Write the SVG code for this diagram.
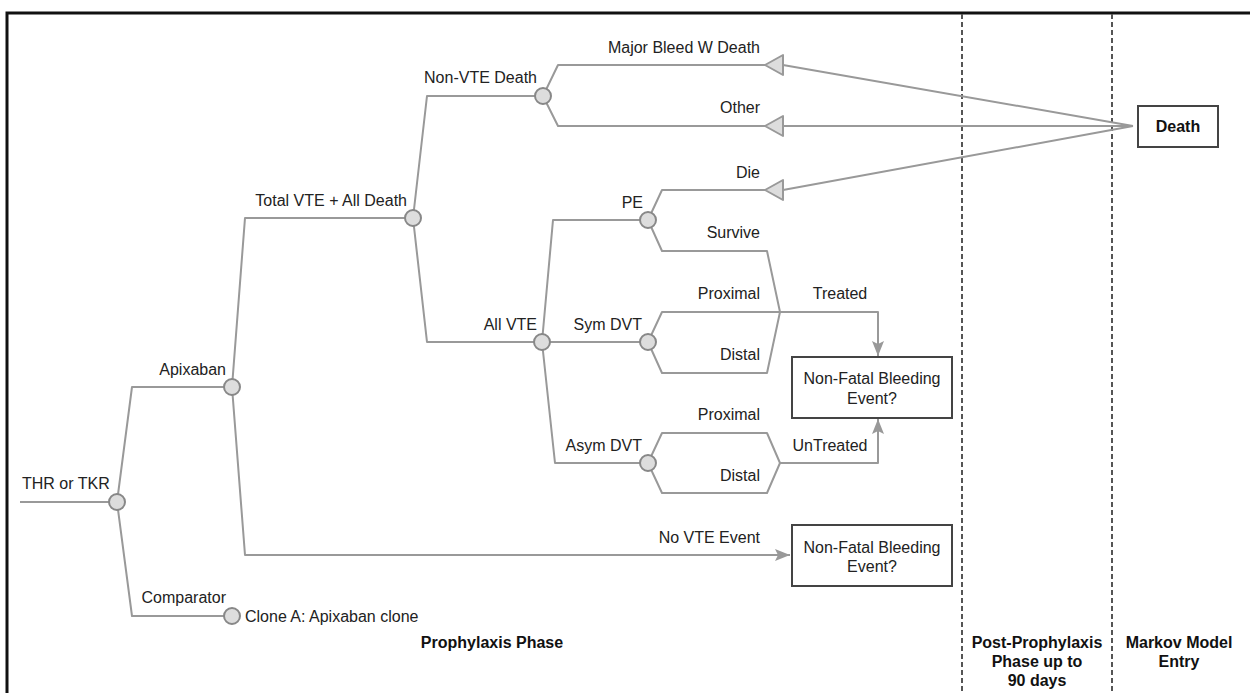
<svg xmlns="http://www.w3.org/2000/svg" width="1250" height="693" viewBox="0 0 1250 693">
<style>
.t{font-family:"Liberation Sans",Arial,sans-serif;font-size:16px;fill:#222}
.r{text-anchor:end}
.m{text-anchor:middle}
.b{font-weight:bold;font-size:16px;fill:#111}
.ln{fill:none;stroke:#999;stroke-width:2;stroke-linejoin:round}
.ch{fill:#ddd;stroke:#888;stroke-width:2}
.term{fill:#ddd;stroke:#999;stroke-width:2;stroke-linejoin:round}
.box{fill:#fff;stroke:#444;stroke-width:2}
.dash{stroke:#555;stroke-width:2;stroke-dasharray:5,3}
</style>
<defs>
<marker id="ah" markerWidth="16" markerHeight="12" refX="15" refY="6" orient="auto" markerUnits="userSpaceOnUse">
<path d="M0,0 L15,6 L0,12 L3,6 z" fill="#999"/>
</marker>
</defs>
<rect width="1250" height="693" fill="#fff"/>
<path d="M7,693 L7,13 L1250,13" fill="none" stroke="#111" stroke-width="3"/>
<line class="dash" x1="962" y1="14" x2="962" y2="693"/>
<line class="dash" x1="1112" y1="14" x2="1112" y2="693"/>

<g id="connectors">
<path class="ln" d="M20,502 L109,502"/>
<path class="ln" d="M117,502 L132,387 L224,387"/>
<path class="ln" d="M117,502 L132,616 L224,616"/>
<path class="ln" d="M232,387 L245,218 L405,218"/>
<path class="ln" d="M232,387 L245,555 L790,555" marker-end="url(#ah)"/>
<path class="ln" d="M413,218 L427,96 L535,96"/>
<path class="ln" d="M413,218 L427,342 L534,342"/>
<path class="ln" d="M543,96 L558,65 L765,65"/>
<path class="ln" d="M543,96 L558,126 L765,126"/>
<path class="ln" d="M542,342 L553,220 L640,220"/>
<path class="ln" d="M542,342 L555,463 L640,463"/>
<path class="ln" d="M550,342 L640,342"/>
<path class="ln" d="M648,220 L662,190 L765,190"/>
<path class="ln" d="M648,220 L662,251 L767,251 L780,312"/>
<path class="ln" d="M648,342 L662,312 L780,312"/>
<path class="ln" d="M648,342 L662,373 L767,373 L780,312"/>
<path class="ln" d="M780,312 L878,312 L878,356" marker-end="url(#ah)"/>
<path class="ln" d="M648,463 L662,433 L767,433 L780,463"/>
<path class="ln" d="M648,463 L662,493 L767,493 L780,463"/>
<path class="ln" d="M780,463 L878,463 L878,419" marker-end="url(#ah)"/>
<path class="ln" d="M783,65 L1133,126 M783,126 L1133,126 M783,190 L1133,126"/>
</g>

<g id="n-root"><circle class="ch" cx="117" cy="502" r="8"/><text class="t" x="22" y="489">THR or TKR</text></g>
<g id="n-apixaban"><circle class="ch" cx="232" cy="387" r="8"/><text class="t r" x="226" y="375">Apixaban</text></g>
<g id="n-comparator"><circle class="ch" cx="232" cy="616" r="8"/><text class="t r" x="226" y="603">Comparator</text><text class="t" x="245" y="622">Clone A: Apixaban clone</text></g>
<g id="n-total"><circle class="ch" cx="413" cy="218" r="8"/><text class="t r" x="407" y="206">Total VTE + All Death</text></g>
<g id="n-novte"><text class="t r" x="760" y="543">No VTE Event</text></g>
<g id="n-nonvte"><circle class="ch" cx="543" cy="96" r="8"/><text class="t r" x="537" y="83">Non-VTE Death</text></g>
<g id="n-allvte"><circle class="ch" cx="542" cy="342" r="8"/><text class="t r" x="537" y="330">All VTE</text></g>
<g id="n-pe"><circle class="ch" cx="648" cy="220" r="8"/><text class="t r" x="643" y="208">PE</text></g>
<g id="n-symdvt"><circle class="ch" cx="648" cy="342" r="8"/><text class="t r" x="642" y="330">Sym DVT</text></g>
<g id="n-asymdvt"><circle class="ch" cx="648" cy="463" r="8"/><text class="t r" x="642" y="451">Asym DVT</text></g>
<g id="n-majorbleed"><path class="term" d="M765,65 L783,55 L783,75 z"/><text class="t r" x="760" y="53">Major Bleed W Death</text></g>
<g id="n-other"><path class="term" d="M765,126 L783,116 L783,136 z"/><text class="t r" x="760" y="113">Other</text></g>
<g id="n-die"><path class="term" d="M765,190 L783,180 L783,200 z"/><text class="t r" x="760" y="178">Die</text></g>
<g id="n-survive"><text class="t r" x="760" y="238">Survive</text></g>
<g id="n-symprox"><text class="t r" x="760" y="299">Proximal</text></g>
<g id="n-symdist"><text class="t r" x="760" y="360">Distal</text></g>
<g id="n-asymprox"><text class="t r" x="760" y="420">Proximal</text></g>
<g id="n-asymdist"><text class="t r" x="760" y="481">Distal</text></g>
<g id="n-treated"><text class="t m" x="840" y="299">Treated</text></g>
<g id="n-untreated"><text class="t m" x="830" y="451">UnTreated</text></g>
<g id="n-bleed1"><rect class="box" x="792" y="357" width="160" height="61"/><text class="t m" x="872" y="384">Non-Fatal Bleeding</text><text class="t m" x="872" y="404">Event?</text></g>
<g id="n-bleed2"><rect class="box" x="792" y="525" width="160" height="61"/><text class="t m" x="872" y="553">Non-Fatal Bleeding</text><text class="t m" x="872" y="572">Event?</text></g>
<g id="n-death"><rect class="box" x="1138" y="106" width="80" height="41"/><text class="t m b" x="1178" y="132">Death</text></g>

<g id="phase-labels">
<text class="t m b" x="492" y="648">Prophylaxis Phase</text>
<text class="t m b" x="1037" y="648">Post-Prophylaxis</text>
<text class="t m b" x="1037" y="667">Phase up to</text>
<text class="t m b" x="1037" y="686">90 days</text>
<text class="t m b" x="1179" y="648">Markov Model</text>
<text class="t m b" x="1179" y="667">Entry</text>
</g>
</svg>
